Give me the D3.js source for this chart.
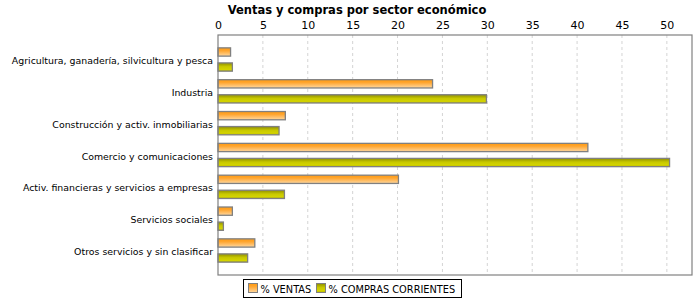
<!DOCTYPE html>
<html>
  <head>
    <meta charset="utf-8">
    <title>Ventas y compras por sector económico</title>
    <style>
      body { margin: 0; background: #fff; }
      .chart { font-family: "DejaVu Sans", sans-serif; }
      .grid line { stroke: #d4d4d4; stroke-dasharray: 3,3; }
    </style>
  </head>
  <body>
    <div class="chart"></div>
    <script src="https://d3js.org/d3.v7.min.js"></script>
    <script>
      // Chart data
      var categories = [
        "Agricultura, ganadería, silvicultura y pesca",
        "Industria",
        "Construcción y activ. inmobiliarias",
        "Comercio y comunicaciones",
        "Activ. financieras y servicios a empresas",
        "Servicios sociales",
        "Otros servicios y sin clasificar"
      ];
      var seriesNames = ["% VENTAS", "% COMPRAS CORRIENTES"];
      var ventas = [1.4, 23.9, 7.5, 41.2, 20.1, 1.6, 4.1];
      var compras = [1.6, 29.9, 6.8, 50.3, 7.4, 0.6, 3.3];
      var xTicks = [0, 5, 10, 15, 20, 25, 30, 35, 40, 45, 50];

      var width = 700, height = 300;
      var plot = {left: 218, right: 692, top: 35, bottom: 275};

      var svg = d3.select(".chart").append("svg")
        .attr("width", width)
        .attr("height", height);

      // Gradients for the bars
      var defs = svg.append("defs");
      var gOr = defs.append("linearGradient").attr("id", "gradV")
        .attr("x1", 0).attr("y1", 0).attr("x2", 0).attr("y2", 1);
      gOr.append("stop").attr("offset", "0%").attr("stop-color", "#ff9a10");
      gOr.append("stop").attr("offset", "35%").attr("stop-color", "#ffa630");
      gOr.append("stop").attr("offset", "100%").attr("stop-color", "#ffd8a0");
      var gGr = defs.append("linearGradient").attr("id", "gradC")
        .attr("x1", 0).attr("y1", 0).attr("x2", 0).attr("y2", 1);
      gGr.append("stop").attr("offset", "0%").attr("stop-color", "#8e8e00");
      gGr.append("stop").attr("offset", "45%").attr("stop-color", "#c8c800");
      gGr.append("stop").attr("offset", "80%").attr("stop-color", "#d4d400");
      gGr.append("stop").attr("offset", "100%").attr("stop-color", "#b4b400");
      var fills = ["url(#gradV)", "url(#gradC)"];

      // Scales
      var x = d3.scaleLinear()
        .domain([0, 52.8])
        .range([plot.left, plot.right]);

      var y0 = d3.scaleBand()
        .domain(categories)
        .range([plot.top, plot.bottom])
        .paddingInner(0.268)
        .paddingOuter(0.404);

      var y1 = d3.scaleBand()
        .domain(seriesNames)
        .range([0, y0.bandwidth()])
        .paddingInner(0.45)
        .paddingOuter(0);

      // Title
      svg.append("text")
        .attr("x", 357)
        .attr("y", 14)
        .attr("text-anchor", "middle")
        .style("font-size", "11.5px")
        .style("font-weight", "bold")
        .text("Ventas y compras por sector económico");

      // Gridlines
      svg.append("g")
        .attr("class", "grid")
        .selectAll("line")
        .data(xTicks.slice(1))
        .enter().append("line")
        .attr("x1", function(d) { return x(d); })
        .attr("x2", function(d) { return x(d); })
        .attr("y1", plot.top)
        .attr("y2", plot.bottom);

      // Top axis
      var xAxis = d3.axisTop(x).tickValues(xTicks).tickSize(0).tickPadding(6);
      var ax = svg.append("g")
        .attr("transform", "translate(0," + plot.top + ")")
        .call(xAxis);
      ax.select(".domain").remove();
      ax.selectAll("text")
        .style("font-family", "DejaVu Sans, sans-serif")
        .style("font-size", "11px")
        .attr("fill", "#000");

      // Left axis with category labels
      var yAxis = d3.axisLeft(y0).tickSize(0).tickPadding(5);
      var ay = svg.append("g")
        .attr("transform", "translate(" + plot.left + ",1.5)")
        .call(yAxis);
      ay.select(".domain").remove();
      ay.selectAll("text")
        .style("font-family", "DejaVu Sans, sans-serif")
        .style("font-size", "9.4px")
        .attr("fill", "#000");

      // Bars
      var rows = categories.map(function(c, i) {
        return {cat: c, vals: [ventas[i], compras[i]]};
      });
      var groups = svg.selectAll(".cat")
        .data(rows)
        .enter().append("g")
        .attr("class", "cat")
        .attr("transform", function(d) { return "translate(0," + y0(d.cat) + ")"; });
      groups.selectAll("rect")
        .data(function(d) { return d.vals.map(function(v, j) { return {s: seriesNames[j], v: v, j: j}; }); })
        .enter().append("rect")
        .attr("x", x(0))
        .attr("y", function(d) { return y1(d.s); })
        .attr("width", function(d) { return x(d.v) - x(0); })
        .attr("height", y1.bandwidth())
        .attr("fill", function(d) { return fills[d.j]; })
        .attr("stroke", "#808080")
        .attr("stroke-width", 1.3);

      // Plot border
      svg.append("rect")
        .attr("x", plot.left)
        .attr("y", plot.top)
        .attr("width", plot.right - plot.left)
        .attr("height", plot.bottom - plot.top)
        .attr("fill", "none")
        .attr("stroke", "#808080")
        .attr("stroke-width", 1.2);

      // Legend
      var legend = svg.append("g").attr("transform", "translate(243.5,279.5)");
      legend.append("rect")
        .attr("width", 218)
        .attr("height", 18)
        .attr("fill", "#fff")
        .attr("stroke", "#000");
      var legX = [5, 73];
      seriesNames.forEach(function(s, i) {
        legend.append("rect")
          .attr("x", legX[i])
          .attr("y", 4)
          .attr("width", 9)
          .attr("height", 9)
          .attr("fill", fills[i])
          .attr("stroke", "#808080");
        legend.append("text")
          .attr("x", legX[i] + 12)
          .attr("y", 13)
          .style("font-size", "9.8px")
          .text(s);
      });
    </script>
  </body>
</html>
